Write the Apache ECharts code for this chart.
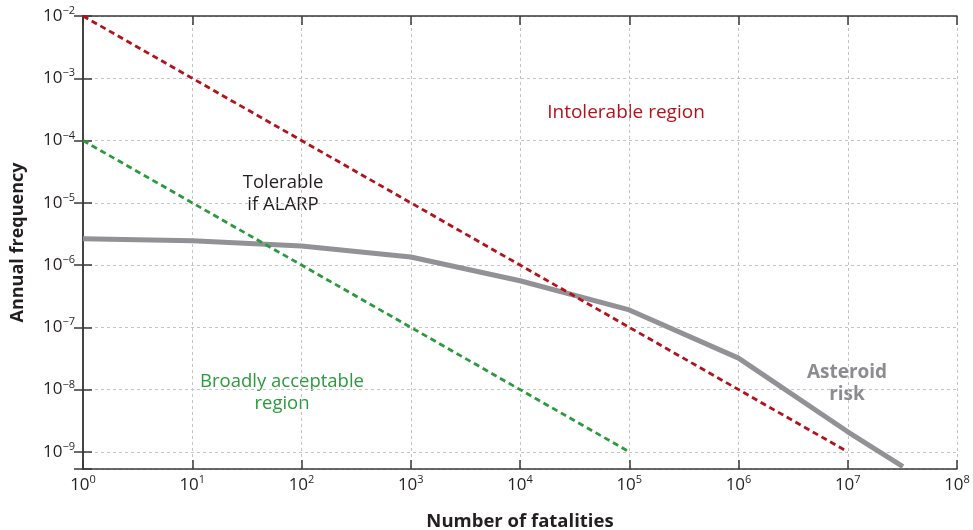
<!DOCTYPE html>
<html><head><meta charset="utf-8">
<script src="https://cdn.jsdelivr.net/npm/echarts@6/dist/echarts.min.js"></script>
<style>html,body{margin:0;padding:0;background:#fff}#c{width:973px;height:530px}</style>
</head><body><div id="c"></div>
<script>
// ---- data (raw values) ----
const xMinFatalities = 1;
const xMaxFatalities = 1e8;
const yMinFrequency = 5.3e-10;
const yMaxFrequency = 1e-2;
const asteroidFatalities = [1, 10, 100, 1000, 1e4, 1e5, 1e6, 1e7, 3.2e7];
const asteroidFrequency  = [2.65e-6, 2.45e-6, 2.03e-6, 1.35e-6, 5.6e-7, 1.9e-7, 3.2e-8, 2.1e-9, 5.8e-10];
const intolerableFatalities = [1, 1e7];
const intolerableFrequency  = [1e-2, 1e-9];
const acceptableFatalities = [1, 1e5];
const acceptableFrequency  = [1e-4, 1e-9];
const regionLabels = ['Intolerable region', 'Tolerable\nif ALARP', 'Broadly acceptable\nregion', 'Asteroid\nrisk'];
const xAxisTitle = 'Number of fatalities';
const yAxisTitle = 'Annual frequency';

const L = Math.log10;
const pairs = (xs, ys) => xs.map((x, i) => [L(x), L(ys[i])]);
const FONT = '"Open Sans", "Noto Sans", sans-serif';
const isInt = v => Math.abs(v - Math.round(v)) < 1e-6;
const sup = v => { const n = Math.round(v); return n < 0 ? '\u2212' + (-n) : String(n); };
const powLabel = v => isInt(v) ? '{b|10}{s|' + sup(v) + '}' : '';
const rich = {
  b: { fontFamily: FONT, fontSize: 17, color: '#231f20', lineHeight: 20 },
  s: { fontFamily: FONT, fontSize: 11, color: '#231f20', lineHeight: 20, padding: [0, 0, 10, 0] }
};
const axisLineStyle = { color: '#3a3a3a', width: 1.5 };
const gridLine = { show: true, lineStyle: { color: '#c4c4c4', width: 1, type: [3, 3] } };
const tickLabel = (m) => ({ formatter: powLabel, rich: rich, margin: m, fontFamily: FONT, fontSize: 17, color: '#231f20' });

const chart = echarts.init(document.getElementById('c'));
chart.setOption({
  backgroundColor: '#fff',
  animation: false,
  grid: { left: 83, right: 16, top: 16, bottom: 61, containLabel: false, outerBoundsMode: 'none' },
  xAxis: [
    { type: 'value', min: L(xMinFatalities), max: L(xMaxFatalities), interval: 1,
      axisLine: { show: true, lineStyle: axisLineStyle },
      axisTick: { show: true, inside: true, length: 9, lineStyle: axisLineStyle },
      axisLabel: tickLabel(6),
      splitLine: gridLine,
      name: xAxisTitle, nameLocation: 'middle', nameGap: 43,
      nameTextStyle: { fontFamily: FONT, fontSize: 18.5, fontWeight: 'bold', color: '#231f20' } },
    { type: 'value', position: 'top', min: L(xMinFatalities), max: L(xMaxFatalities), interval: 1,
      axisLine: { show: true, lineStyle: axisLineStyle },
      axisTick: { show: true, inside: true, length: 9, lineStyle: axisLineStyle },
      axisLabel: { show: false }, splitLine: { show: false } }
  ],
  yAxis: [
    { type: 'value', min: L(yMinFrequency), max: L(yMaxFrequency), minInterval: 1, maxInterval: 1,
      axisLine: { show: true, lineStyle: axisLineStyle },
      axisTick: { show: true, inside: true, length: 9, lineStyle: axisLineStyle },
      axisLabel: tickLabel(8),
      splitLine: gridLine,
      name: yAxisTitle, nameLocation: 'middle', nameGap: 56, nameRotate: 90,
      nameTextStyle: { fontFamily: FONT, fontSize: 18, fontWeight: 'bold', color: '#231f20' } },
    { type: 'value', position: 'right', min: L(yMinFrequency), max: L(yMaxFrequency), minInterval: 1, maxInterval: 1,
      axisLine: { show: true, lineStyle: axisLineStyle },
      axisTick: { show: true, inside: true, length: 9, lineStyle: axisLineStyle },
      axisLabel: { show: false }, splitLine: { show: false } }
  ],
  series: [
    { type: 'line', data: pairs(asteroidFatalities, asteroidFrequency), showSymbol: false, clip: true,
      lineStyle: { color: '#929296', width: 5 }, z: 2 },
    { type: 'line', data: pairs(intolerableFatalities, intolerableFrequency), showSymbol: false,
      lineStyle: { color: '#b3121d', width: 2.8, type: [6, 4] }, z: 3 },
    { type: 'line', data: pairs(acceptableFatalities, acceptableFrequency), showSymbol: false,
      lineStyle: { color: '#2b9a3e', width: 2.8, type: [6, 4] }, z: 3 }
  ],
  graphic: [
    { type: 'text', x: 626, y: 113, style: { text: regionLabels[0], fill: '#b3121d', font: '19px ' + FONT, align: 'center', verticalAlign: 'middle' } },
    { type: 'text', x: 283, y: 194, style: { text: regionLabels[1], fill: '#231f20', font: '18.5px ' + FONT, align: 'center', verticalAlign: 'middle', lineHeight: 22 } },
    { type: 'text', x: 282, y: 393, style: { text: regionLabels[2], fill: '#2b9a3e', font: '18.5px ' + FONT, align: 'center', verticalAlign: 'middle', lineHeight: 22 } },
    { type: 'text', x: 847, y: 384, style: { text: regionLabels[3], fill: '#8c8c90', font: 'bold 19px ' + FONT, align: 'center', verticalAlign: 'middle', lineHeight: 22 } }
  ]
});
</script></body></html>
